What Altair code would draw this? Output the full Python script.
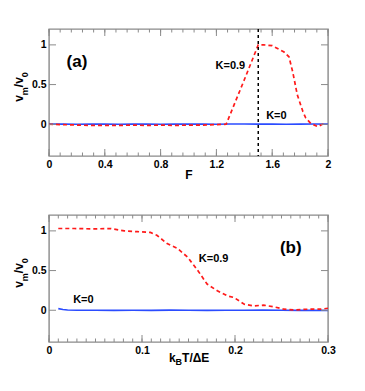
import altair as alt
import pandas as pd

# ---------------- data ----------------
# panel (a): v_m/v_0 versus F
Fa_red = [0.0, 0.1, 0.2, 0.3, 0.4, 0.5, 0.6, 0.7, 0.8, 0.9, 1.0, 1.1, 1.2, 1.27,
          1.40, 1.50, 1.54, 1.60, 1.685, 1.72, 1.747, 1.78, 1.82, 1.84, 1.877, 1.926, 1.96, 1.98]
va_red = [0.0, -0.005, -0.01, -0.015, -0.015, -0.015, -0.01, -0.015, -0.01, -0.015, -0.01, -0.01, -0.005, 0.0,
          0.56, 1.0, 1.0, 0.99, 0.91, 0.85, 0.66, 0.37, 0.16, 0.08, 0.01, -0.03, 0.0, 0.0]
Fa_blue = [0.0, 0.1, 0.2, 0.3, 0.4, 0.5, 0.6, 0.7, 0.8, 0.9, 1.0, 1.1, 1.2, 1.3, 1.4, 1.5,
           1.6, 1.7, 1.8, 1.9, 2.0]
va_blue = [0.003, 0.002, 0.0, 0.003, 0.001, 0.0, 0.004, 0.002, 0.0, 0.003, 0.001, 0.002,
           0.0, 0.003, 0.004, 0.001, 0.003, 0.0, 0.002, 0.003, 0.001]
F_marker = [1.5]

# panel (b): v_m/v_0 versus k_B T / Delta E
Tb_red = [0.01, 0.027, 0.048, 0.066, 0.081, 0.095, 0.109, 0.116, 0.127, 0.138, 0.149, 0.16,
          0.17, 0.181, 0.192, 0.199, 0.21, 0.22, 0.231, 0.242, 0.253, 0.263, 0.278, 0.292, 0.3]
vb_red = [1.03, 1.03, 1.025, 1.03, 1.0, 0.99, 0.98, 0.945, 0.84, 0.78, 0.67, 0.5,
          0.33, 0.245, 0.18, 0.16, 0.076, 0.055, 0.064, 0.042, 0.013, 0.004, 0.013, 0.013, 0.025]
Tb_blue = [0.01, 0.015, 0.02, 0.03, 0.05, 0.07, 0.09, 0.11, 0.13, 0.15, 0.17, 0.19, 0.21,
           0.23, 0.25, 0.27, 0.29, 0.3]
vb_blue = [0.02, 0.01, 0.004, 0.0, 0.0, -0.002, 0.0, -0.001, 0.002, 0.0, -0.001, 0.0,
           0.0, 0.001, 0.0, -0.002, 0.0, -0.003]

# tick positions / labels
a_major = [0, 0.4, 0.8, 1.2, 1.6, 2.0]
a_minor = [round(i * 0.08, 2) for i in range(26)]
b_major = [0, 0.1, 0.2, 0.3]
b_minor = [round(i * 0.01, 2) for i in range(31)]
y_major = [0, 0.5, 1]

# annotations
a_text = ["(a)", "K=0.9", "K=0"]
a_tx = [0.2, 1.30, 1.63]
a_ty = [0.79, 0.74, 0.10]
b_text = ["(b)", "K=0.9", "K=0"]
b_tx = [0.26, 0.177, 0.037]
b_ty = [0.78, 0.64, 0.13]
label_sizes = [17, 11, 11]

# axis-title pieces (text, size, subscript?)
ytitle_pieces = [("v", 12, False), ("m", 9, True), ("/v", 12, False), ("0", 9, True)]
xtitle_b_pieces = [("k", 12, False), ("B", 9, True), ("T/ΔE", 12, False)]

FONT = "Liberation Sans"
GREY = "#8a8a8a"
W, H = 279, 127
YDOM = [-0.4, 1.2]
MAJ, MIN, YT = 7, 3.5, 7
CHAR_W = {"v": 0.556, "m": 0.889, "/": 0.278, "0": 0.556, "k": 0.556, "B": 0.722,
          "T": 0.611, "Δ": 0.612, "E": 0.667}


def text_w(s, size):
    return sum(CHAR_W.get(c, 0.6) for c in s) * size


def title_layers(pieces, horizontal, center, base, sub_shift):
    total = sum(text_w(t, s) for t, s, _ in pieces)
    pos = center - total / 2 if horizontal else center + total / 2
    out = []
    for t, s, sub in pieces:
        df = pd.DataFrame({"t": [t]})
        if horizontal:
            ch = alt.Chart(df).mark_text(font=FONT, fontWeight="bold", color="black",
                                         fontSize=s, align="left", baseline="alphabetic").encode(
                x=alt.value(pos), y=alt.value(base + (sub_shift if sub else 0)), text="t:N")
            pos += text_w(t, s)
        else:
            ch = alt.Chart(df).mark_text(font=FONT, fontWeight="bold", color="black",
                                         fontSize=s, angle=270, align="left",
                                         baseline="alphabetic").encode(
                x=alt.value(base + (sub_shift if sub else 0)), y=alt.value(pos), text="t:N")
            pos -= text_w(t, s)
        out.append(ch)
    return out


def panel(xr, yr, xb, yb, xdom, xmaj, xmin, tt, tx, ty, xtitle, marker=None):
    red_df = pd.DataFrame({"x": xr, "y": yr})
    blue_df = pd.DataFrame({"x": xb, "y": yb})
    xs = alt.Scale(domain=xdom, nice=False, zero=False)
    ys = alt.Scale(domain=YDOM, nice=False, zero=False)

    main_x = alt.Axis(orient="bottom", values=xmaj, format="~g", ticks=False, domain=False,
                      grid=False, labelFont=FONT, labelFontSize=10.5, labelFontWeight="bold",
                      labelColor="black", labelPadding=3, title=xtitle, titleFont=FONT,
                      titleFontSize=12, titleFontWeight="bold", titleColor="black",
                      titlePadding=0, labelFlush=False)
    main_y = alt.Axis(orient="left", values=y_major, format="~g", ticks=False, domain=False,
                      grid=False, labelFont=FONT, labelFontSize=10.5, labelFontWeight="bold",
                      labelColor="black", labelPadding=3, title=None)

    X = lambda f: alt.X(f, scale=xs, axis=main_x)
    Y = lambda f: alt.Y(f, scale=ys, axis=main_y)

    blue = alt.Chart(blue_df).mark_line(color="#2b4cff", strokeWidth=1.6).encode(
        x=X("x:Q"), y=Y("y:Q"))
    red = alt.Chart(red_df).mark_line(color="#ff1a1a", strokeWidth=1.7,
                                      strokeDash=[4, 3]).encode(x=X("x:Q"), y=Y("y:Q"))

    # inward tick marks on all four sides
    def xticks(vals, ln, top):
        df = pd.DataFrame({"v": vals})
        y0, y1 = (0, ln) if top else (H - ln, H)
        return alt.Chart(df).mark_rule(color=GREY, strokeWidth=1).encode(
            x=X("v:Q"), y=alt.value(y0), y2=alt.value(y1))

    def yticks(vals, ln, right):
        df = pd.DataFrame({"v": vals})
        x0, x1 = (W - ln, W) if right else (0, ln)
        return alt.Chart(df).mark_rule(color=GREY, strokeWidth=1).encode(
            y=Y("v:Q"), x=alt.value(x0), x2=alt.value(x1))

    tick_layers = [xticks(xmin, MIN, False), xticks(xmin, MIN, True),
                   xticks(xmaj, MAJ, False), xticks(xmaj, MAJ, True),
                   yticks(y_major, YT, False), yticks(y_major, YT, True)]

    lab_df = pd.DataFrame({"x": tx, "y": ty, "t": tt, "s": label_sizes})
    txt = alt.Chart(lab_df).mark_text(font=FONT, fontWeight="bold", color="black").encode(
        x=X("x:Q"), y=Y("y:Q"), text="t:N",
        size=alt.Size("s:Q", scale=None, legend=None))

    layers = [blue, red] + tick_layers + [txt]
    if marker is not None:
        rule = alt.Chart(pd.DataFrame({"x": marker})).mark_rule(
            color="black", strokeWidth=1.5, strokeDash=[3, 3]).encode(x=X("x:Q"))
        layers.insert(2, rule)
    layers += title_layers(ytitle_pieces, False, 58, -26, 5)
    return layers


top = alt.layer(*panel(Fa_red, va_red, Fa_blue, va_blue, [0, 2], a_major, a_minor,
                       a_text, a_tx, a_ty, "F", marker=F_marker)).properties(width=W, height=H)

b_layers = panel(Tb_red, vb_red, Tb_blue, vb_blue, [0, 0.3], b_major, b_minor,
                 b_text, b_tx, b_ty, None)
b_layers += title_layers(xtitle_b_pieces, True, W / 2, 147, 3)
bottom = alt.layer(*b_layers).properties(width=W, height=H)

chart = alt.vconcat(top, bottom, spacing=31).properties(
    padding={"left": 4, "top": 19, "right": 5, "bottom": 5},
    background="white"
).configure_view(stroke=GREY, strokeWidth=1.4)

chart.save("out.html", embed_options={"renderer": "svg", "actions": False})
